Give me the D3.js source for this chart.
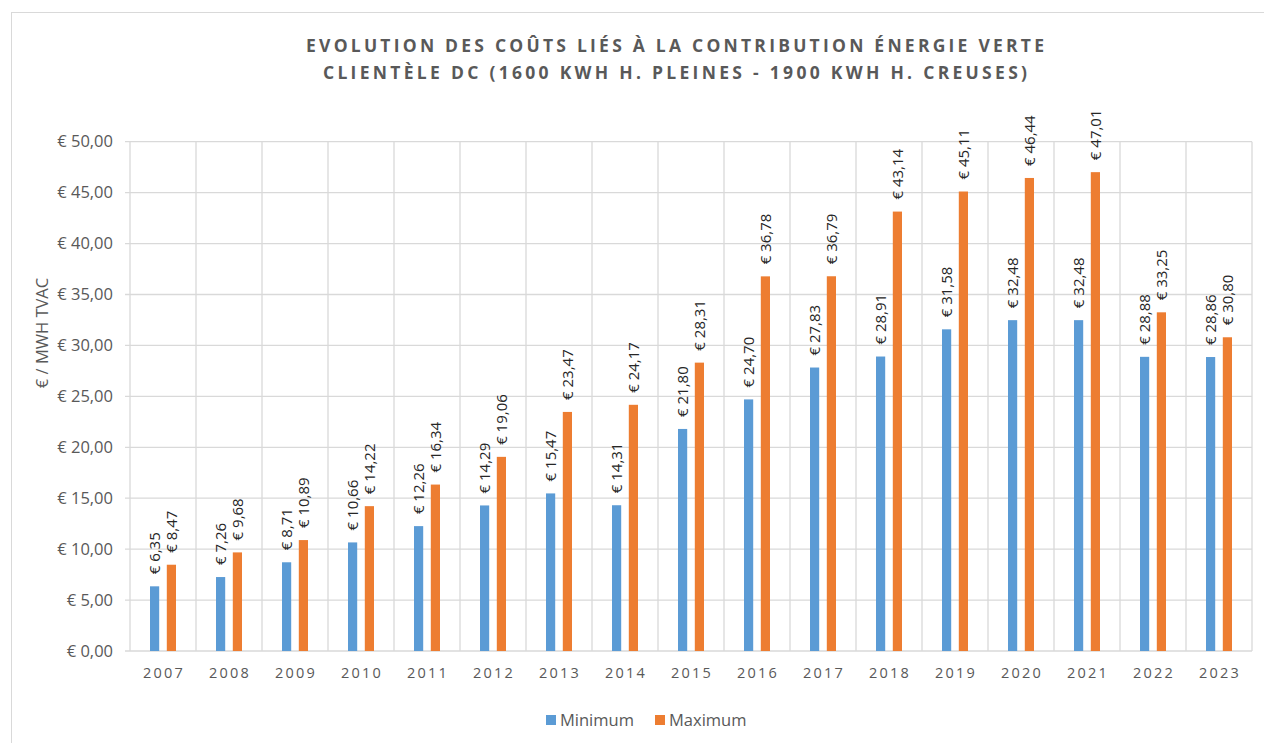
<!DOCTYPE html>
<html>
<head>
<meta charset="utf-8">
<script src="https://cdn.jsdelivr.net/npm/d3@7"></script>
<style>
  body { margin: 0; background: #fff; }
  text { font-family: "Open Sans", "Noto Sans", sans-serif; }
</style>
</head>
<body>
<script>
// data
var years = ["2007","2008","2009","2010","2011","2012","2013","2014","2015","2016","2017","2018","2019","2020","2021","2022","2023"];
var minimum = [6.35, 7.26, 8.71, 10.66, 12.26, 14.29, 15.47, 14.31, 21.80, 24.70, 27.83, 28.91, 31.58, 32.48, 32.48, 28.88, 28.86];
var maximum = [8.47, 9.68, 10.89, 14.22, 16.34, 19.06, 23.47, 24.17, 28.31, 36.78, 36.79, 43.14, 45.11, 46.44, 47.01, 33.25, 30.80];
var seriesNames = ["Minimum", "Maximum"];
var yTicks = [0, 5, 10, 15, 20, 25, 30, 35, 40, 45, 50];
var titleLines = ["EVOLUTION DES COÛTS LIÉS À LA CONTRIBUTION ÉNERGIE VERTE",
                  "CLIENTÈLE DC (1600 KWH H. PLEINES - 1900 KWH H. CREUSES)"];

var W = 1264, H = 743;
var margin = {top: 141.7, right: 12, bottom: 92, left: 130},
    width = 1252 - margin.left,
    height = 651 - margin.top;

var colors = {Minimum: "#5B9BD5", Maximum: "#ED7D31"};
var fmt = function(v) { return "€ " + v.toFixed(2).replace(".", ","); };

var svg = d3.select("body").append("svg")
    .attr("width", W)
    .attr("height", H);

// chart frame
svg.append("rect")
    .attr("x", 11.5).attr("y", 12.5)
    .attr("width", W + 20).attr("height", H + 20)
    .attr("fill", "none")
    .attr("stroke", "#d9d9d9");

// title
svg.selectAll(".title")
    .data(titleLines)
  .enter().append("text")
    .attr("class", "title")
    .attr("x", 675)
    .attr("y", function(d, i) { return 52 + i * 27; })
    .attr("text-anchor", "middle")
    .attr("textLength", function(d, i) { return i === 0 ? 738 : 704; })
    .attr("lengthAdjust", "spacing")
    .style("font-size", "17.5px")
    .style("font-weight", "bold")
    .style("fill", "#595959")
    .text(function(d) { return d; });

var g = svg.append("g")
    .attr("transform", "translate(" + margin.left + "," + margin.top + ")");

var x0 = d3.scaleBand().domain(years).range([0, width]);
var y = d3.scaleLinear().domain([0, 50]).range([height, 0]);

// bars positions inside a category
var barW = 9.2, gap = 7.6;
var offset = {Minimum: x0.bandwidth() / 2 - gap / 2 - barW, Maximum: x0.bandwidth() / 2 + gap / 2};

// horizontal grid + y ticks
g.append("g")
    .selectAll("line")
    .data(yTicks)
  .enter().append("line")
    .attr("x1", -5).attr("x2", width)
    .attr("y1", function(d) { return y(d); })
    .attr("y2", function(d) { return y(d); })
    .attr("stroke", "#d9d9d9")
    .attr("stroke-width", 1.3);

// vertical grid
g.append("g")
    .selectAll("line")
    .data(d3.range(years.length + 1))
  .enter().append("line")
    .attr("x1", function(i) { return i * x0.step(); })
    .attr("x2", function(i) { return i * x0.step(); })
    .attr("y1", 0).attr("y2", height)
    .attr("stroke", "#d9d9d9")
    .attr("stroke-width", 1.3);

g.append("g")
    .selectAll("text")
    .data(yTicks)
  .enter().append("text")
    .attr("x", -17)
    .attr("y", function(d) { return y(d); })
    .attr("dy", "0.35em")
    .attr("text-anchor", "end")
    .style("font-size", "16.5px")
    .style("fill", "#595959")
    .text(fmt);

// x labels
g.append("g")
    .selectAll("text")
    .data(years)
  .enter().append("text")
    .attr("x", function(d) { return x0(d) + x0.bandwidth() / 2 + 1; })
    .attr("y", height + 22)
    .attr("dy", "0.35em")
    .attr("text-anchor", "middle")
    .style("font-size", "14.5px")
    .style("letter-spacing", "2.2px")
    .style("fill", "#595959")
    .text(function(d) { return d; });

// y axis title
svg.append("text")
    .attr("transform", "translate(42,333) rotate(-90)")
    .attr("text-anchor", "middle")
    .attr("dy", "0.35em")
    .style("font-size", "16.5px")
    .style("fill", "#595959")
    .text("€ / MWH TVAC");

// bars
var rows = [];
years.forEach(function(yr, i) {
  rows.push({year: yr, key: "Minimum", value: minimum[i]});
  rows.push({year: yr, key: "Maximum", value: maximum[i]});
});

g.append("g")
    .selectAll("rect")
    .data(rows)
  .enter().append("rect")
    .attr("x", function(d) { return x0(d.year) + offset[d.key]; })
    .attr("y", function(d) { return y(d.value); })
    .attr("width", barW)
    .attr("height", function(d) { return height - y(d.value); })
    .attr("fill", function(d) { return colors[d.key]; });

// data labels
g.append("g")
    .selectAll("text")
    .data(rows)
  .enter().append("text")
    .attr("transform", function(d) {
      var cx = x0(d.year) + offset[d.key] + barW / 2;
      return "translate(" + cx + "," + (y(d.value) - 12) + ") rotate(-90)";
    })
    .attr("dy", "0.35em")
    .style("font-size", "15px")
    .style("fill", "#262626")
    .text(function(d) { return fmt(d.value); });

// legend
var legend = svg.append("g")
    .selectAll("g")
    .data(seriesNames)
  .enter().append("g")
    .attr("transform", function(d, i) { return "translate(" + (546 + i * 109) + ",720)"; });

legend.append("rect")
    .attr("x", 0).attr("y", -5)
    .attr("width", 10).attr("height", 10)
    .attr("fill", function(d) { return colors[d]; });

legend.append("text")
    .attr("x", 14)
    .attr("dy", "0.35em")
    .style("font-size", "16.5px")
    .style("fill", "#595959")
    .text(function(d) { return d; });
</script>
</body>
</html>
